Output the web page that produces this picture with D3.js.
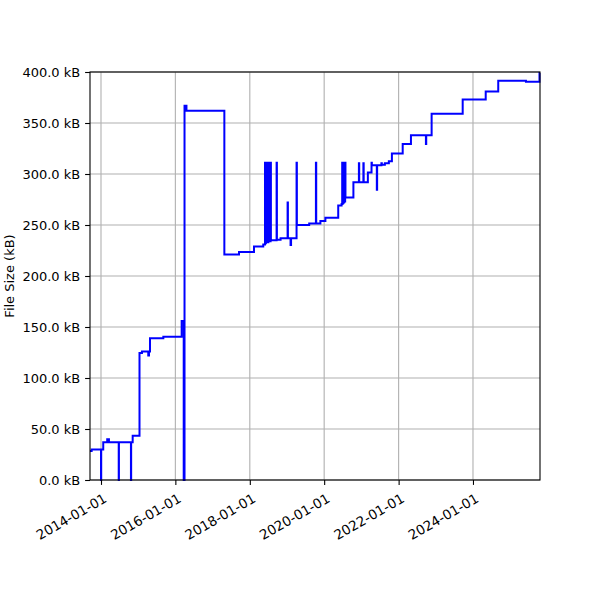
<!DOCTYPE html>
<html>
<head>
<meta charset="utf-8">
<script src="https://cdn.jsdelivr.net/npm/d3@7"></script>
<style>
  body { margin: 0; background: #fff; }
  svg { font-family: "DejaVu Sans", sans-serif; }
</style>
</head>
<body>
<div id="chart"></div>
<script>
// file size history (dates, kB)
const dates = [
  "2013-09-15", "2013-10-01", "2014-01-01", "2014-01-03", "2014-01-23", "2014-03-03", "2014-03-20",
  "2014-06-24", "2014-06-26", "2014-10-22", "2014-10-24", "2014-11-08", "2015-01-14", "2015-02-07",
  "2015-04-10", "2015-04-17", "2015-04-27", "2015-09-05", "2016-03-03", "2016-03-23", "2016-03-31",
  "2016-04-19", "2017-04-26", "2017-09-17", "2018-02-11", "2018-05-13",
  "2018-05-30", "2018-06-02", "2018-06-08", "2018-06-12", "2018-06-20", "2018-06-24", "2018-07-02",
  "2018-07-06", "2018-07-14", "2018-07-18", "2018-07-24", "2018-07-27",
  "2018-09-21", "2018-09-24", "2018-10-30", "2019-01-07", "2019-01-10", "2019-02-05", "2019-02-10",
  "2019-04-05", "2019-04-08", "2019-08-07", "2019-10-12", "2019-10-15", "2019-11-25", "2020-01-13",
  "2020-05-18", "2020-06-20",
  "2020-06-26", "2020-06-29", "2020-07-05", "2020-07-08", "2020-07-15", "2020-07-18", "2020-07-25",
  "2020-07-28", "2020-10-14", "2020-12-07", "2020-12-10", "2021-01-20", "2021-01-23", "2021-03-05",
  "2021-04-10", "2021-04-13", "2021-06-01", "2021-06-04", "2021-07-16", "2021-07-20", "2021-08-19",
  "2021-09-27", "2021-10-27", "2022-02-10", "2022-05-02", "2022-09-26", "2022-09-29", "2022-11-21",
  "2023-09-22", "2024-05-05", "2024-09-05", "2025-06-04", "2025-10-15", "2025-10-20"
];
const sizes = [
  28.5, 30, 0, 30, 37, 40, 37,
  0, 37, 0, 37, 43.5, 124.5, 126,
  122, 126, 139, 140.5, 156, 0, 367,
  362, 221, 223.5, 229, 231,
  311, 232, 311, 233, 311, 233, 311,
  234, 311, 234, 311, 235,
  311, 235.5, 237, 272, 237, 230.5, 237,
  311, 250, 251.5, 311, 251.5, 254, 257,
  269, 270.5,
  311, 271, 311, 272, 311, 273, 311,
  277, 292, 310.5, 292, 310.5, 292, 301.5,
  311, 308.5, 284.5, 308.5, 310.5, 309, 310.5,
  312.5, 320, 329.5, 338, 329.5, 338, 359,
  373, 381, 391.5, 390.5, 399, 399
];
const yTicks = [0, 50, 100, 150, 200, 250, 300, 350, 400];
const xTicks = ["2014-01-01", "2016-01-01", "2018-01-01", "2020-01-01", "2022-01-01", "2024-01-01"];

const parse = d3.timeParse("%Y-%m-%d");
const data = dates.map((d, i) => ({ date: parse(d), size: sizes[i] }));

const outerWidth = 600, outerHeight = 600;
const margin = { top: 72, right: 60, bottom: 120, left: 90 };
const width = outerWidth - margin.left - margin.right;
const height = outerHeight - margin.top - margin.bottom;
const fontSize = 13;

const svg = d3.select("#chart").append("svg")
  .attr("width", outerWidth)
  .attr("height", outerHeight);

const g = svg.append("g")
  .attr("transform", `translate(${margin.left},${margin.top})`);

const xScale = d3.scaleTime()
  .domain(d3.extent(data, d => d.date))
  .range([0, width]);

const yScale = d3.scaleLinear()
  .domain([0, 400])
  .range([height, 0]);

// grid
g.append("g").selectAll("line")
  .data(xTicks.map(parse))
  .join("line")
  .attr("x1", d => xScale(d)).attr("x2", d => xScale(d))
  .attr("y1", 0).attr("y2", height)
  .attr("stroke", "#b0b0b0").attr("stroke-width", 1.1);

g.append("g").selectAll("line")
  .data(yTicks)
  .join("line")
  .attr("x1", 0).attr("x2", width)
  .attr("y1", d => yScale(d)).attr("y2", d => yScale(d))
  .attr("stroke", "#b0b0b0").attr("stroke-width", 1.1);

// line
const line = d3.line()
  .x(d => xScale(d.date))
  .y(d => yScale(d.size))
  .curve(d3.curveStepAfter);

g.append("path")
  .datum(data)
  .attr("fill", "none")
  .attr("stroke", "#0000ff")
  .attr("stroke-width", 2)
  .attr("d", line);

// frame
g.append("rect")
  .attr("width", width).attr("height", height)
  .attr("fill", "none").attr("stroke", "#000").attr("stroke-width", 1.1);

// axes
const yAxis = d3.axisLeft(yScale)
  .tickValues(yTicks)
  .tickSize(4.9)
  .tickPadding(4.9)
  .tickFormat(d => d3.format(".1f")(d) + " kB");

const yaxis = g.append("g").call(yAxis);
yaxis.select(".domain").remove();
yaxis.selectAll("line").attr("stroke", "#000").attr("stroke-width", 1.1);
yaxis.selectAll("text").attr("font-size", fontSize).attr("fill", "#000")
  .attr("font-family", "DejaVu Sans");

const xAxis = d3.axisBottom(xScale)
  .tickValues(xTicks.map(parse))
  .tickSize(4.9)
  .tickFormat(d3.timeFormat("%Y-%m-%d"));

const xaxis = g.append("g")
  .attr("transform", `translate(0,${height})`)
  .call(xAxis);
xaxis.select(".domain").remove();
xaxis.selectAll("line").attr("stroke", "#000").attr("stroke-width", 1.1);
xaxis.selectAll("text")
  .attr("font-size", 13.5).attr("fill", "#000")
  .attr("font-family", "DejaVu Sans")
  .attr("text-anchor", "end")
  .attr("x", 0).attr("y", 0).attr("dy", "0.78em")
  .attr("transform", "translate(1,12) rotate(-30)");

// y label
svg.append("text")
  .attr("transform", `translate(13.5,${margin.top + height / 2}) rotate(-90)`)
  .attr("text-anchor", "middle")
  .attr("font-size", fontSize)
  .attr("fill", "#000")
  .text("File Size (kB)");
</script>
</body>
</html>
